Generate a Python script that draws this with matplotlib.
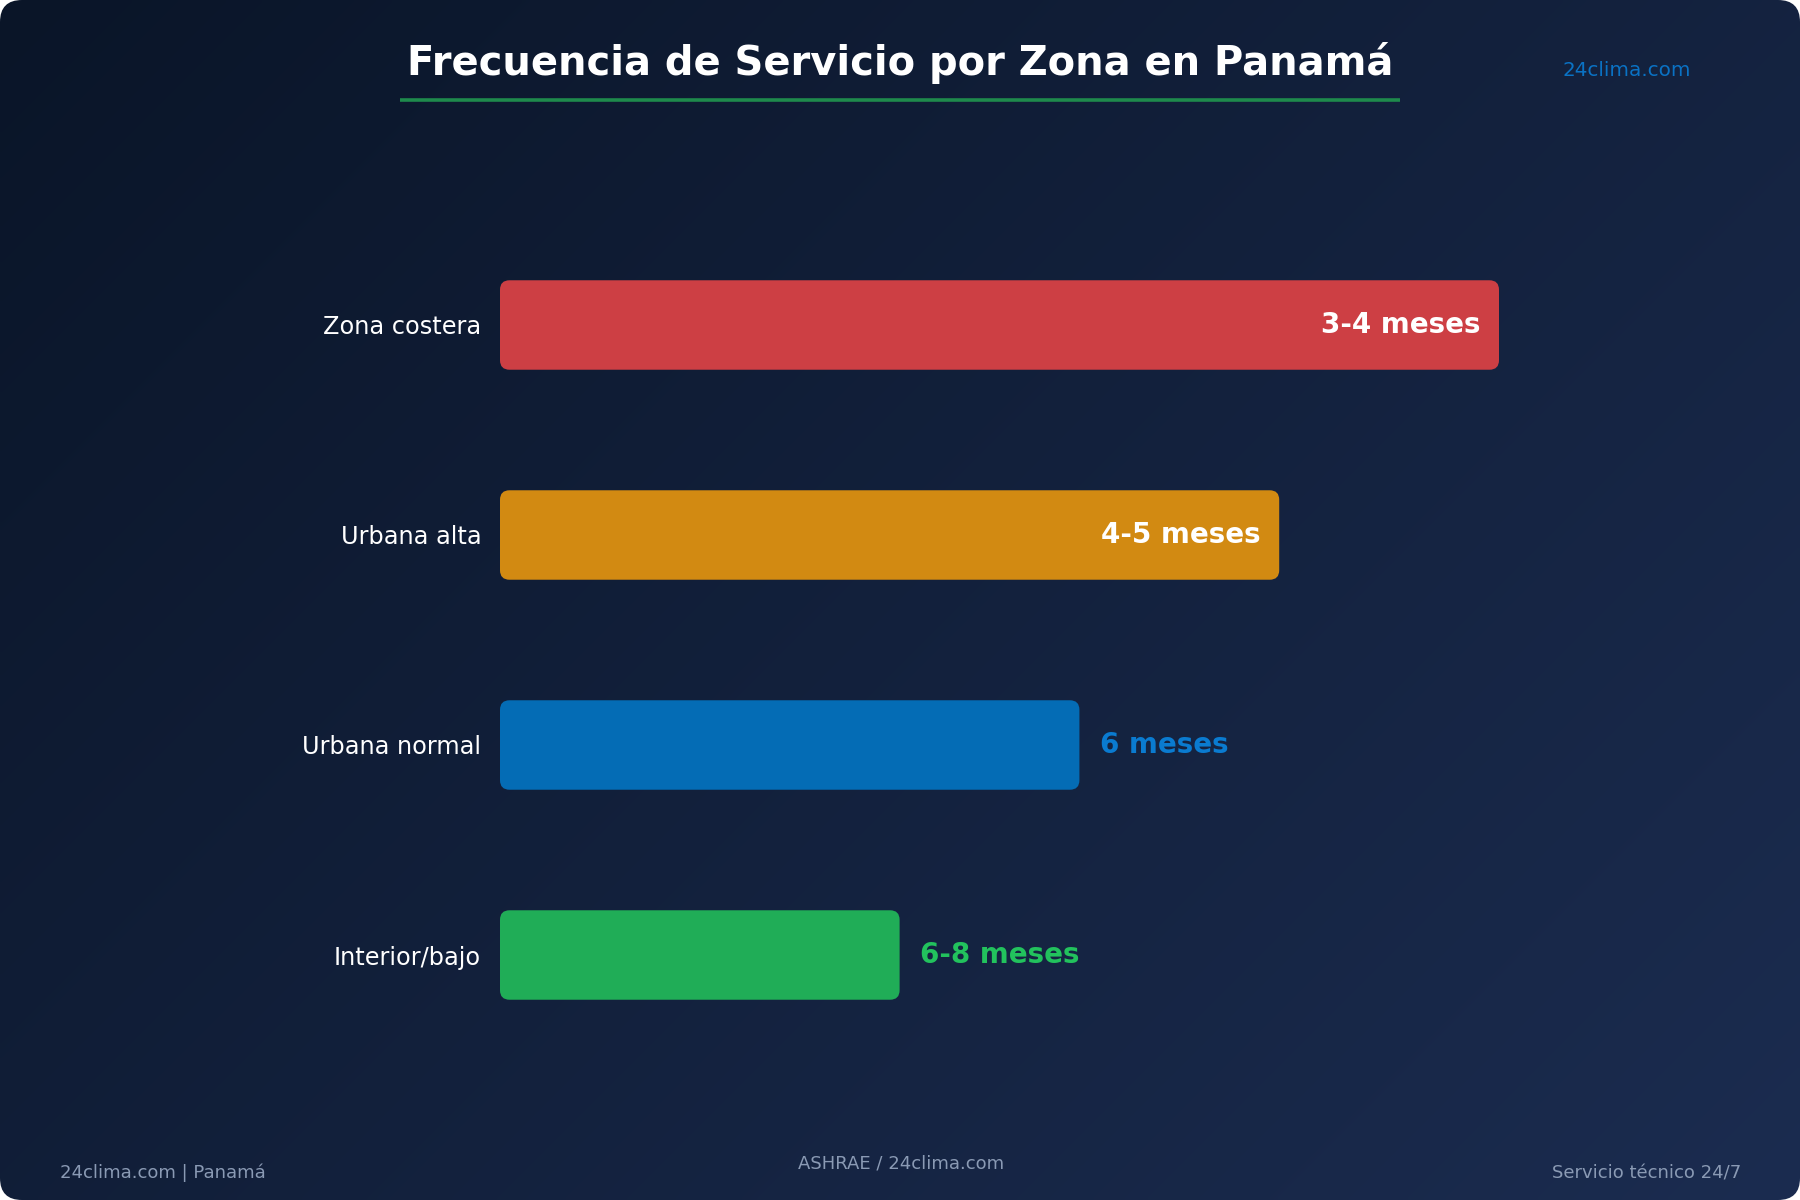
import numpy as np
import matplotlib
matplotlib.use("Agg")
import matplotlib.pyplot as plt
from matplotlib.patches import FancyBboxPatch
from matplotlib.colors import to_rgb

# ---- data ----
categories = ["Zona costera", "Urbana alta", "Urbana normal", "Interior/bajo"]
values = [100, 78, 58, 40]
value_labels = ["3-4 meses", "4-5 meses", "6 meses", "6-8 meses"]
bar_colors = ["#cd3f44", "#d28a12", "#046cb5", "#20ad57"]
label_colors = ["#ffffff", "#ffffff", "#0a7bd0", "#22c25d"]
label_inside = [True, True, False, False]

title = "Frecuencia de Servicio por Zona en Panamá"
brand = "24clima.com"
footer_left = "24clima.com | Panamá"
footer_center = "ASHRAE / 24clima.com"
footer_right = "Servicio técnico 24/7"

W, H = 1800, 1200
fig = plt.figure(figsize=(18, 12), dpi=100, facecolor="white")

# ---- background gradient with rounded corners ----
bg = fig.add_axes([0, 0, 1, 1])
bg.set_xlim(0, W)
bg.set_ylim(H, 0)
bg.axis("off")
c0 = np.array(to_rgb("#0a1528"))
c1 = np.array(to_rgb("#1b2c50"))
yy, xx = np.mgrid[0:H:4, 0:W:4]
t = (xx / W * 0.6 + yy / H * 0.4)
t = t / t.max()
img = c0[None, None, :] * (1 - t[..., None]) + c1[None, None, :] * t[..., None]
im = bg.imshow(img, extent=(0, W, H, 0), interpolation="bilinear", zorder=0)
clip = FancyBboxPatch((0, 0), W, H, boxstyle="round,pad=0,rounding_size=22",
                      transform=bg.transData, facecolor="none", edgecolor="none")
bg.add_patch(clip)
im.set_clip_path(clip)

# title & decorations (pixel coords)
bg.text(900, 63, title, ha="center", va="center", fontsize=28.8,
        fontweight="bold", color="white")
bg.plot([400, 1400], [100, 100], color="#1e8a4c", lw=2.6, solid_capstyle="butt")
bg.text(1563, 70, brand, ha="left", va="center", fontsize=14.4, color="#0a72c4")
fc = "#8a9ab4"
bg.text(60, 1173, footer_left, ha="left", va="center", fontsize=13, color=fc)
bg.text(901, 1163, footer_center, ha="center", va="center", fontsize=13, color=fc)
bg.text(1741, 1173, footer_right, ha="right", va="center", fontsize=13, color=fc)

# ---- main bar axes ----
left_px, right_px = 500, 1499
top_px, bot_px = 220, 1060
ax = fig.add_axes([left_px / W, 1 - bot_px / H, (right_px - left_px) / W,
                   (bot_px - top_px) / H])
ax.set_facecolor("none")
ax.set_xlim(0, max(values))
ax.set_ylim(len(categories) - 0.5, -0.5)
for s in ax.spines.values():
    s.set_visible(False)
ax.set_xticks([])
ax.set_yticks(range(len(categories)))
ax.set_yticklabels(categories, fontsize=17.3, color="white")
ax.tick_params(axis="y", length=0, pad=13.5)

bar_h = 0.426
bars = ax.barh(range(len(categories)), values, height=bar_h, color=bar_colors)
x_per_px = max(values) / (right_px - left_px)
y_per_px = len(categories) / (bot_px - top_px)
r_px = 9.5
for b, col in zip(bars, bar_colors):
    x, y = b.get_x(), b.get_y()
    w, h = b.get_width(), b.get_height()
    b.set_visible(False)
    p = FancyBboxPatch((x, y), w, h,
                       boxstyle=f"round,pad=0,rounding_size={r_px * x_per_px}",
                       mutation_aspect=y_per_px / x_per_px,
                       facecolor=col, edgecolor="none", zorder=2)
    ax.add_patch(p)

for i, (v, lab, lc, inside) in enumerate(zip(values, value_labels, label_colors, label_inside)):
    if inside:
        ax.annotate(lab, (v, i), xytext=(-13.5, 0), textcoords="offset points",
                    ha="right", va="center", fontsize=20, fontweight="bold",
                    color=lc, zorder=3)
    else:
        ax.annotate(lab, (v, i), xytext=(14.5, 0), textcoords="offset points",
                    ha="left", va="center", fontsize=20, fontweight="bold",
                    color=lc, zorder=3, annotation_clip=False)

fig.savefig("out.png", dpi=100, facecolor="white")
